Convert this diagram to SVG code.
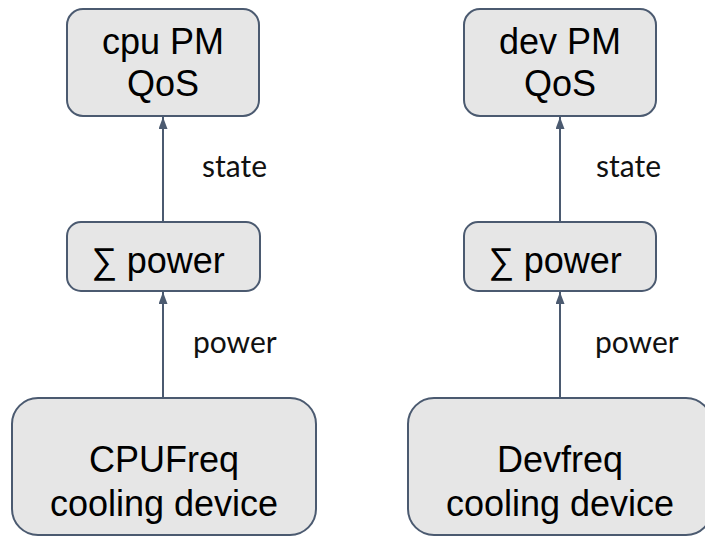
<svg xmlns="http://www.w3.org/2000/svg" width="705" height="537" viewBox="0 0 705 537">
<defs>
<style>
.box{fill:#e6e6e6;stroke:#4b5a70;stroke-width:2}
.t{font-family:"Liberation Sans",Arial,sans-serif;font-size:36px;fill:#000;text-anchor:middle}
.lbl{font-family:Lato,"Open Sans",sans-serif;font-size:30px;fill:#111}
.conn{stroke:#4b5a70;stroke-width:2;fill:none;marker-end:url(#ah)}
</style>
<marker id="ah" viewBox="0 0 12 9" refX="12" refY="4.5" markerWidth="6" markerHeight="4.5" orient="auto" markerUnits="strokeWidth">
<path d="M0,0 L12,4.5 L0,9 z" fill="#4b5a70"/>
</marker>
</defs>
<rect width="705" height="537" fill="#fff"/>
<g id="connectors">
<line class="conn" x1="163" y1="398" x2="163" y2="292"/>
<line class="conn" x1="163" y1="222" x2="163" y2="117"/>
<line class="conn" x1="560" y1="398" x2="560" y2="292"/>
<line class="conn" x1="560" y1="222" x2="560" y2="117"/>
<text class="lbl" x="202" y="177">state</text>
<text class="lbl" x="193" y="353">power</text>
<text class="lbl" x="596" y="177">state</text>
<text class="lbl" x="595" y="353">power</text>
</g>
<g id="cpu_qos">
<rect class="box" x="67" y="9" width="192" height="107" rx="16"/>
<text class="t" x="163" y="54">cpu PM</text>
<text class="t" x="163" y="96">QoS</text>
</g>
<g id="cpu_sum">
<rect class="box" x="67" y="222" width="193" height="69" rx="14"/>
<text class="t" x="158" y="273">∑ power</text>
</g>
<g id="cpufreq">
<rect class="box" x="12" y="398" width="304" height="137" rx="26"/>
<text class="t" x="164" y="472">CPUFreq</text>
<text class="t" x="164" y="516">cooling device</text>
</g>
<g id="dev_qos">
<rect class="box" x="464" y="9" width="192" height="107" rx="16"/>
<text class="t" x="560" y="54">dev PM</text>
<text class="t" x="560" y="96">QoS</text>
</g>
<g id="dev_sum">
<rect class="box" x="464" y="222" width="192" height="69" rx="14"/>
<text class="t" x="555" y="273">∑ power</text>
</g>
<g id="devfreq">
<rect class="box" x="408" y="398" width="304" height="137" rx="26"/>
<text class="t" x="560" y="472">Devfreq</text>
<text class="t" x="560" y="516">cooling device</text>
</g>
</svg>
